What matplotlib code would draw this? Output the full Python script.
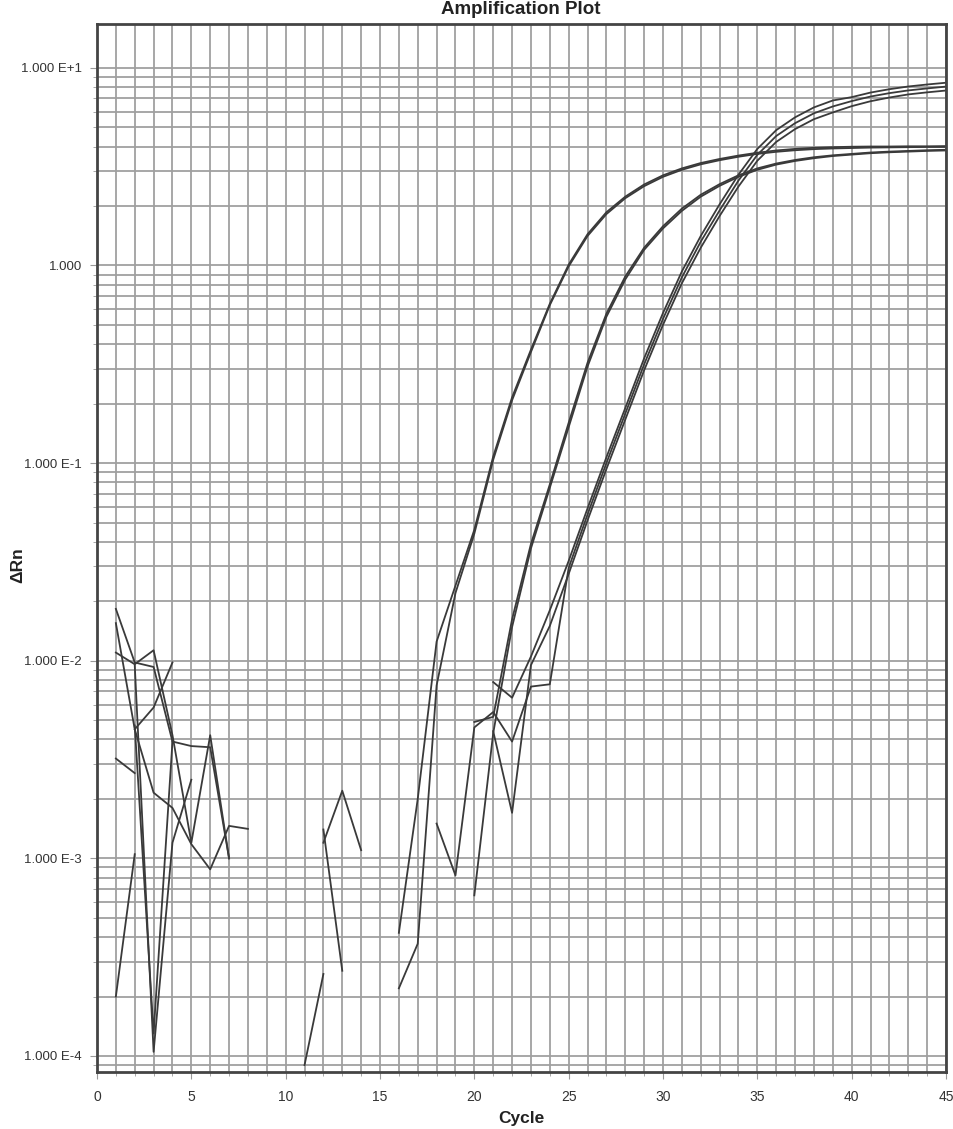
import numpy as np
import matplotlib
matplotlib.use('Agg')
import matplotlib.pyplot as plt
from matplotlib.ticker import MultipleLocator, LogLocator, FixedLocator, FixedFormatter

nan = np.nan

cycles = np.arange(1, 46)

# delta Rn per cycle (cycle 1..45), nan = not drawn (value <= 0)
well_1 = [0.0183, 0.0098, 0.0093, 3.9e-3, 3.7e-3, 3.65e-3, 1.0e-3, nan,
          nan, nan, nan, nan, nan, nan, nan,
          4.2e-4, 2.0e-3, 0.0125, 0.024, 0.046, 0.108, 0.215, 0.375, 0.64, 1.01,
          1.44, 1.86, 2.23, 2.57, 2.86, 3.1, 3.3, 3.46, 3.6, 3.72,
          3.82, 3.89, 3.94, 3.97, 3.99, 4.0, 4.0, 4.01, 4.01, 4.02]
well_2 = [0.0155, 4.5e-3, 2.15e-3, 1.8e-3, 1.18e-3, 8.8e-4, 1.46e-3, 1.41e-3,
          nan, nan, nan, nan, nan, nan, nan,
          2.2e-4, 3.7e-4, 7.5e-3, 0.022, 0.044, 0.104, 0.208, 0.365, 0.63, 0.99,
          1.41, 1.82, 2.19, 2.52, 2.81, 3.05, 3.25, 3.41, 3.55, 3.67,
          3.76, 3.83, 3.88, 3.91, 3.93, 3.95, 3.96, 3.97, 3.98, 3.98]
well_3 = [0.0110, 9.6e-3, 0.0113, 4.2e-3, 1.2e-3, 4.2e-3, 1.0e-3, nan,
          nan, nan, nan, nan, nan, nan, nan,
          nan, nan, nan, nan, 4.9e-3, 5.2e-3, 0.0162, 0.039, 0.078, 0.160,
          0.322, 0.57, 0.88, 1.23, 1.58, 1.94, 2.28, 2.58, 2.86, 3.10,
          3.28, 3.42, 3.53, 3.61, 3.67, 3.73, 3.77, 3.80, 3.83, 3.85]
well_4 = [3.2e-3, 2.7e-3, nan, nan, nan, nan, nan, nan,
          nan, nan, 9e-5, 2.6e-4, nan, nan, nan,
          nan, nan, nan, nan, 6.5e-4, 4.3e-3, 0.0148, 0.037, 0.075, 0.152,
          0.308, 0.55, 0.85, 1.20, 1.54, 1.89, 2.23, 2.53, 2.81, 3.05,
          3.24, 3.38, 3.49, 3.58, 3.64, 3.70, 3.74, 3.77, 3.80, 3.82]
well_5 = [2.0e-4, 1.05e-3, nan, nan, nan, nan, nan, nan,
          nan, nan, nan, 1.4e-3, 2.7e-4, nan, nan,
          nan, nan, nan, nan, nan, 7.8e-3, 6.5e-3, 0.0105, 0.018, 0.032,
          0.059, 0.107, 0.19, 0.339, 0.575, 0.933, 1.41, 2.04, 2.88, 3.89,
          4.84, 5.62, 6.31, 6.84, 7.11, 7.5, 7.8, 8.05, 8.24, 8.41]
well_6 = [nan, 4.5e-3, 5.8e-3, 9.8e-3, nan, nan, nan, nan,
          nan, nan, nan, nan, nan, nan, nan,
          nan, nan, 1.5e-3, 8.2e-4, 4.6e-3, 5.5e-3, 3.9e-3, 7.4e-3, 7.6e-3, 0.0295,
          0.055, 0.10, 0.178, 0.316, 0.537, 0.871, 1.32, 1.9, 2.69, 3.63,
          4.52, 5.25, 5.89, 6.38, 6.79, 7.16, 7.45, 7.69, 7.87, 8.04]
well_7 = [nan, 9.5e-3, 1.05e-4, 1.2e-3, 2.5e-3, nan, nan, nan,
          nan, nan, nan, nan, nan, nan, nan,
          nan, nan, nan, nan, nan, 4.4e-3, 1.7e-3, 9.5e-3, 0.015, 0.0275,
          0.0513, 0.0933, 0.166, 0.295, 0.501, 0.813, 1.23, 1.78, 2.51, 3.39,
          4.22, 4.9, 5.5, 5.95, 6.4, 6.78, 7.08, 7.34, 7.52, 7.68]
well_8 = [nan, 4.7e-3, 1.3e-4, 3.9e-3, nan, nan, nan, nan,
          nan, nan, nan, 1.2e-3, 2.2e-3, 1.1e-3, nan,
          nan, nan, nan, nan, nan, nan, nan, nan, nan, nan,
          nan, nan, nan, nan, nan, nan, nan, nan, nan, nan,
          nan, nan, nan, nan, nan, nan, nan, nan, nan, nan]

wells = [well_1, well_2, well_3, well_4, well_5, well_6, well_7, well_8]

y_ticks = [1e-4, 1e-3, 1e-2, 1e-1, 1, 10]
y_labels = ['1.000 E-4', '1.000 E-3', '1.000 E-2', '1.000 E-1', '1.000', '1.000 E+1']

plt.rcParams['font.family'] = ['Liberation Sans', 'DejaVu Sans']

fig = plt.figure(figsize=(9.54, 11.29), dpi=100)
ax = fig.add_axes([97/954, 1 - 1072/1129, 849/954, 1048/1129])

for w in wells:
    ax.plot(cycles, w, color='#3a3a3a', lw=1.3)

ax.set_yscale('log')
ax.set_xlim(0, 45)
ax.set_ylim(10**-4.081, 10**1.222)

ax.xaxis.set_major_locator(MultipleLocator(5))
ax.xaxis.set_minor_locator(MultipleLocator(1))
ax.yaxis.set_major_locator(FixedLocator(y_ticks))
ax.yaxis.set_major_formatter(FixedFormatter(y_labels))
ax.yaxis.set_minor_locator(LogLocator(base=10, subs=np.arange(2, 10)))

ax.grid(True, which='both', color='#a0a0a0', lw=1.3)
ax.set_axisbelow(True)

ax.tick_params(which='both', direction='out', color='#999999', labelcolor='#333333')
ax.tick_params(axis='y', labelsize=9.5, pad=6)
ax.tick_params(axis='x', labelsize=10, pad=8)
ax.tick_params(which='major', length=5)
ax.tick_params(which='minor', length=3, labelleft=False)
for s in ax.spines.values():
    s.set_color('#444444')
    s.set_linewidth(2)

fig.text(521/954, 1 - 10/1129, 'Amplification Plot', ha='center', va='center',
         fontsize=13.5, weight='bold', color='#222222')
fig.text(521/954, 1 - 1118/1129, 'Cycle', ha='center', va='center',
         fontsize=12.5, weight='bold', color='#222222')
fig.text(18/954, 1 - 565/1129, '\u0394Rn', ha='center', va='center', rotation=90,
         fontsize=12.5, weight='bold', color='#222222')

fig.savefig('out.png', dpi=100)
